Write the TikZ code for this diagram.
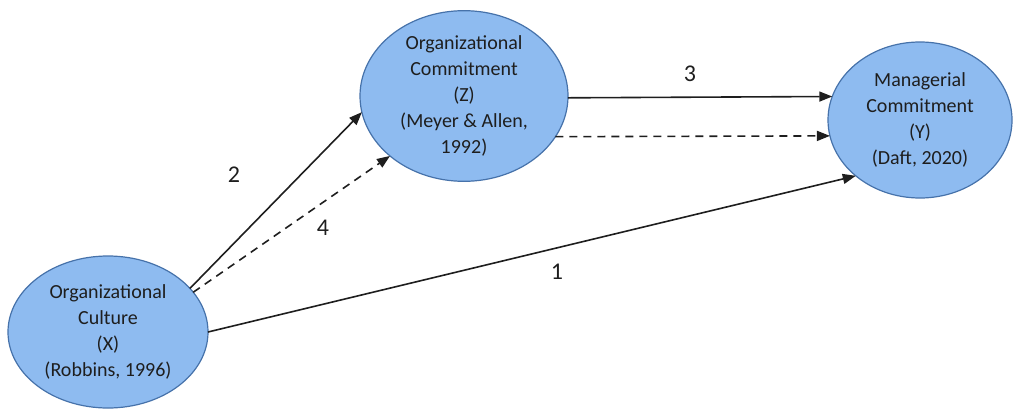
\documentclass[tikz,border=0pt]{standalone}
\usepackage{fontspec}
\setmainfont{Carlito}
\usetikzlibrary{shapes.geometric,arrows.meta}
\definecolor{ovalfill}{RGB}{142,187,240}
\definecolor{ovalline}{RGB}{70,114,170}
\definecolor{ink}{RGB}{30,30,30}
\tikzset{
  construct/.style={ellipse, draw=ovalline, line width=1.2pt, fill=ovalfill,
    inner sep=0pt, outer sep=0pt, align=center, text=ink,
    font=\fontsize{20}{26}\selectfont},
  path/.style={line width=1.6pt, draw=ink,
    -{Triangle[length=13pt,width=10pt]}},
  mediated/.style={path, dash pattern=on 8pt off 6pt},
  pathlabel/.style={font=\fontsize{24}{28}\selectfont, text=ink, inner sep=0pt}
}
\begin{document}
\begin{tikzpicture}[x=1pt,y=-1pt]
  \useasboundingbox (0,0) rectangle (1016,409);

  % variables
  \node[construct, minimum width=200pt, minimum height=152pt] (X) at (108,332)
    {Organizational\\Culture\\(X)\\(Robbins, 1996)};
  \node[construct, minimum width=208pt, minimum height=162pt] (Z) at (464,96)
    {Organizational\\Commitment\\(Z)\\(Meyer \& Allen,\\1992)};
  \node[construct, minimum width=184pt, minimum height=156pt] (Y) at (920,120)
    {Managerial\\Commitment\\(Y)\\(Daft, 2020)};

  % direct paths
  \draw[path] (X.28) -- (Z.189.5);
  \draw[path] (Z.-1) -- (Y.165);
  \draw[path] (X.0.5) -- (Y.221);

  % mediated paths
  \draw[mediated] (X.25.5) -- (Z.219.5);
  \draw[mediated] (Z.336) -- (Y.190.7);

  % path numbers
  \node[pathlabel] (l2) at (234,175) {2};
  \node[pathlabel] (l4) at (323,228) {4};
  \node[pathlabel] (l3) at (690,74) {3};
  \node[pathlabel] (l1) at (557,272) {1};
\end{tikzpicture}
\end{document}
